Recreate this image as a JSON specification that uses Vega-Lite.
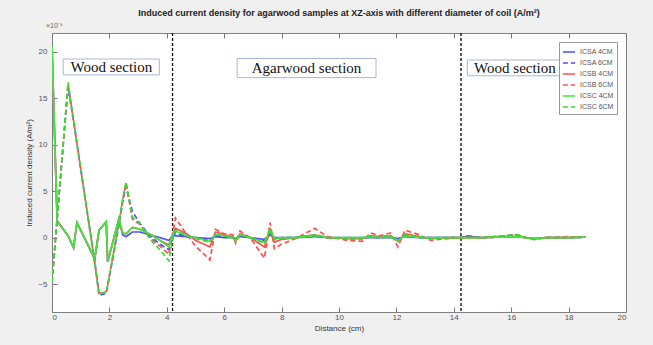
{
  "$schema": "https://vega.github.io/schema/vega-lite/v6.json",
  "width": 574,
  "height": 279,
  "autosize": {"type": "none"},
  "padding": {"left": 52, "top": 33, "right": 27, "bottom": 33},
  "background": "#f0f0f0",
  "title": {
    "text": "Induced current density for agarwood samples at XZ-axis with different diameter of coil (A/m²)",
    "fontSize": 9, "font": "Liberation Sans", "fontWeight": "bold", "color": "#222", "offset": 4, "anchor": "middle"
  },
  "config": {
    "view": {"fill": "white", "stroke": "#808080", "strokeWidth": 1},
    "font": "Liberation Sans"
  },
  "resolve": {"axis": {"x": "independent", "y": "independent"}},
  "layer": [
    {
      "data": {"values": [
        {"t": "Wood section", "x": 2.07, "y": 18.35, "x0": 0.39, "x1": 3.74, "y0": 17.5, "y1": 19.2},
        {"t": "Agarwood section", "x": 8.87, "y": 18.2, "x0": 6.45, "x1": 11.29, "y0": 17.2, "y1": 19.26},
        {"t": "Wood section", "x": 16.13, "y": 18.25, "x0": 14.47, "x1": 17.79, "y0": 17.4, "y1": 19.1}
      ]},
      "layer": [
        {
          "mark": {"type": "rect", "fill": "white", "stroke": "#a9b6d3", "strokeWidth": 1},
          "encoding": {
            "x": {"field": "x0", "type": "quantitative", "axis": null},
            "x2": {"field": "x1"},
            "y": {"field": "y0", "type": "quantitative", "axis": null},
            "y2": {"field": "y1"}
          }
        },
        {
          "mark": {"type": "text", "font": "Liberation Serif", "fontSize": 15, "color": "#111", "baseline": "middle", "align": "center"},
          "encoding": {
            "x": {"field": "x", "type": "quantitative", "axis": null},
            "y": {"field": "y", "type": "quantitative", "axis": {"orient": "right", "labels": false, "domain": false, "grid": false, "title": null, "tickSize": -5, "tickColor": "#777", "values": [-5, 0, 5, 10, 15, 20]}},
            "text": {"field": "t"}
          }
        }
      ]
    },
    {
      "data": {"values": [{"x": 4.2}, {"x": 14.25}]},
      "mark": {"type": "rule", "color": "#000", "strokeWidth": 1.3, "strokeDash": [3, 2]},
      "encoding": {
        "x": {"field": "x", "type": "quantitative", "axis": {"orient": "top", "labels": false, "domain": false, "grid": false, "title": null, "tickSize": -5, "tickColor": "#777", "values": [0, 2, 4, 6, 8, 10, 12, 14, 16, 18, 20]}}
      }
    },
    {
      "data": {"values": [
        {"x": 0, "ICSA 4CM": 20.5, "ICSA 6CM": -4.8, "ICSB 4CM": 20.5, "ICSB 6CM": -4.8, "ICSC 4CM": 20.6, "ICSC 6CM": -4.8},
        {"x": 0.18, "ICSA 4CM": 1.8, "ICSA 6CM": 2.1, "ICSB 4CM": 1.8, "ICSB 6CM": 2.1, "ICSC 4CM": 1.7, "ICSC 6CM": 2.1},
        {"x": 0.56, "ICSA 4CM": 0.2, "ICSA 6CM": 16.2, "ICSB 4CM": 0.2, "ICSB 6CM": 16.5, "ICSC 4CM": 0.2, "ICSC 6CM": 16.7},
        {"x": 0.75, "ICSA 4CM": -1.1, "ICSA 6CM": 12.5, "ICSB 4CM": -1.1, "ICSB 6CM": 12.6, "ICSC 4CM": -1.1, "ICSC 6CM": 12.7},
        {"x": 0.87, "ICSA 4CM": 1.6, "ICSA 6CM": 10.0, "ICSB 4CM": 1.6, "ICSB 6CM": 10.1, "ICSC 4CM": 1.6, "ICSC 6CM": 10.2},
        {"x": 1.49, "ICSA 4CM": -2.3, "ICSA 6CM": -2.6, "ICSB 4CM": -2.3, "ICSB 6CM": -2.7, "ICSC 4CM": -2.2, "ICSC 6CM": -2.7},
        {"x": 1.64, "ICSA 4CM": 0.8, "ICSA 6CM": -6.2, "ICSB 4CM": 0.8, "ICSB 6CM": -6.0, "ICSC 4CM": 0.8, "ICSC 6CM": -6.1},
        {"x": 1.89, "ICSA 4CM": 1.7, "ICSA 6CM": -6.0, "ICSB 4CM": 1.7, "ICSB 6CM": -5.8, "ICSC 4CM": 1.7, "ICSC 6CM": -5.8},
        {"x": 1.94, "ICSA 4CM": -2.6, "ICSA 6CM": -5.2, "ICSB 4CM": -2.6, "ICSB 6CM": -5.1, "ICSC 4CM": -2.6, "ICSC 6CM": -5.1},
        {"x": 2.33, "ICSA 4CM": 2.0, "ICSA 6CM": 1.3, "ICSB 4CM": 2.0, "ICSB 6CM": 1.5, "ICSC 4CM": 2.0, "ICSC 6CM": 1.6},
        {"x": 2.46, "ICSA 4CM": 0.3, "ICSA 6CM": 3.8, "ICSB 4CM": 0.5, "ICSB 6CM": 4.0, "ICSC 4CM": 0.5, "ICSC 6CM": 4.1},
        {"x": 2.58, "ICSA 4CM": 0.1, "ICSA 6CM": 5.5, "ICSB 4CM": 0.4, "ICSB 6CM": 5.8, "ICSC 4CM": 0.4, "ICSC 6CM": 6.0},
        {"x": 2.8, "ICSA 4CM": 0.6, "ICSA 6CM": 2.8, "ICSB 4CM": 1.1, "ICSB 6CM": 2.0, "ICSC 4CM": 1.1, "ICSC 6CM": 2.2},
        {"x": 3.07, "ICSA 4CM": 0.6, "ICSA 6CM": 1.5, "ICSB 4CM": 0.9, "ICSB 6CM": 1.4, "ICSC 4CM": 0.9, "ICSC 6CM": 1.5},
        {"x": 3.4, "ICSA 4CM": 0.3, "ICSA 6CM": 0.2, "ICSB 4CM": 0.4, "ICSB 6CM": 0.0, "ICSC 4CM": 0.4, "ICSC 6CM": -0.1},
        {"x": 3.76, "ICSA 4CM": 0.0, "ICSA 6CM": -0.7, "ICSB 4CM": -0.3, "ICSB 6CM": -0.9, "ICSC 4CM": -0.3, "ICSC 6CM": -1.3},
        {"x": 4.07, "ICSA 4CM": -0.3, "ICSA 6CM": -1.3, "ICSB 4CM": -0.8, "ICSB 6CM": -1.8, "ICSC 4CM": -1.0, "ICSC 6CM": -2.5},
        {"x": 4.2, "ICSA 4CM": 0.2, "ICSA 6CM": 0.0, "ICSB 4CM": 0.3, "ICSB 6CM": 0.2, "ICSC 4CM": 0.3, "ICSC 6CM": -0.2},
        {"x": 4.3, "ICSA 4CM": 0.2, "ICSA 6CM": 0.5, "ICSB 4CM": 1.0, "ICSB 6CM": 2.1, "ICSC 4CM": 0.7, "ICSC 6CM": 0.8},
        {"x": 4.7, "ICSA 4CM": 0.1, "ICSA 6CM": 0.1, "ICSB 4CM": 0.4, "ICSB 6CM": 0.3, "ICSC 4CM": 0.2, "ICSC 6CM": 0.2},
        {"x": 5.0, "ICSA 4CM": 0.0, "ICSA 6CM": 0.0, "ICSB 4CM": -0.3, "ICSB 6CM": -0.9, "ICSC 4CM": 0.0, "ICSC 6CM": -0.1},
        {"x": 5.5, "ICSA 4CM": -0.1, "ICSA 6CM": -0.3, "ICSB 4CM": -1.0, "ICSB 6CM": -2.4, "ICSC 4CM": -0.4, "ICSC 6CM": -0.5},
        {"x": 5.7, "ICSA 4CM": 0.1, "ICSA 6CM": 0.2, "ICSB 4CM": 0.6, "ICSB 6CM": 0.9, "ICSC 4CM": 0.3, "ICSC 6CM": 0.3},
        {"x": 6.0, "ICSA 4CM": 0.0, "ICSA 6CM": 0.1, "ICSB 4CM": 0.3, "ICSB 6CM": 0.4, "ICSC 4CM": 0.2, "ICSC 6CM": 0.2},
        {"x": 6.3, "ICSA 4CM": 0.0, "ICSA 6CM": 0.0, "ICSB 4CM": 0.1, "ICSB 6CM": 0.3, "ICSC 4CM": 0.0, "ICSC 6CM": 0.0},
        {"x": 6.4, "ICSA 4CM": -0.1, "ICSA 6CM": -0.2, "ICSB 4CM": -0.4, "ICSB 6CM": -0.6, "ICSC 4CM": -0.3, "ICSC 6CM": -0.3},
        {"x": 6.55, "ICSA 4CM": 0.1, "ICSA 6CM": 0.2, "ICSB 4CM": 0.4, "ICSB 6CM": 0.7, "ICSC 4CM": 0.3, "ICSC 6CM": 0.3},
        {"x": 6.9, "ICSA 4CM": 0.0, "ICSA 6CM": 0.0, "ICSB 4CM": 0.0, "ICSB 6CM": 0.0, "ICSC 4CM": 0.0, "ICSC 6CM": 0.0},
        {"x": 7.4, "ICSA 4CM": -0.2, "ICSA 6CM": -0.3, "ICSB 4CM": -1.0, "ICSB 6CM": -2.2, "ICSC 4CM": -0.5, "ICSC 6CM": -0.6},
        {"x": 7.6, "ICSA 4CM": 0.3, "ICSA 6CM": 0.5, "ICSB 4CM": 0.9, "ICSB 6CM": 1.6, "ICSC 4CM": 0.8, "ICSC 6CM": 1.0},
        {"x": 7.75, "ICSA 4CM": 0.0, "ICSA 6CM": -0.2, "ICSB 4CM": -0.5, "ICSB 6CM": -1.2, "ICSC 4CM": -0.1, "ICSC 6CM": -0.2},
        {"x": 8.0, "ICSA 4CM": 0.0, "ICSA 6CM": 0.0, "ICSB 4CM": -0.2, "ICSB 6CM": -0.7, "ICSC 4CM": 0.0, "ICSC 6CM": -0.1},
        {"x": 8.5, "ICSA 4CM": 0.0, "ICSA 6CM": 0.0, "ICSB 4CM": 0.0, "ICSB 6CM": -0.1, "ICSC 4CM": 0.0, "ICSC 6CM": 0.0},
        {"x": 9.15, "ICSA 4CM": 0.1, "ICSA 6CM": 0.2, "ICSB 4CM": 0.3, "ICSB 6CM": 1.0, "ICSC 4CM": 0.2, "ICSC 6CM": 0.3},
        {"x": 9.6, "ICSA 4CM": 0.0, "ICSA 6CM": 0.0, "ICSB 4CM": 0.0, "ICSB 6CM": 0.1, "ICSC 4CM": 0.0, "ICSC 6CM": 0.0},
        {"x": 10.3, "ICSA 4CM": 0.0, "ICSA 6CM": -0.1, "ICSB 4CM": -0.1, "ICSB 6CM": -0.3, "ICSC 4CM": 0.0, "ICSC 6CM": -0.1},
        {"x": 10.8, "ICSA 4CM": 0.0, "ICSA 6CM": -0.1, "ICSB 4CM": -0.1, "ICSB 6CM": -0.4, "ICSC 4CM": 0.0, "ICSC 6CM": -0.1},
        {"x": 11.1, "ICSA 4CM": 0.0, "ICSA 6CM": 0.1, "ICSB 4CM": 0.2, "ICSB 6CM": 0.5, "ICSC 4CM": 0.1, "ICSC 6CM": 0.1},
        {"x": 11.4, "ICSA 4CM": 0.0, "ICSA 6CM": 0.0, "ICSB 4CM": 0.1, "ICSB 6CM": 0.2, "ICSC 4CM": 0.0, "ICSC 6CM": 0.0},
        {"x": 11.8, "ICSA 4CM": 0.0, "ICSA 6CM": 0.1, "ICSB 4CM": 0.2, "ICSB 6CM": 0.5, "ICSC 4CM": 0.1, "ICSC 6CM": 0.1},
        {"x": 12.05, "ICSA 4CM": -0.1, "ICSA 6CM": -0.3, "ICSB 4CM": -0.4, "ICSB 6CM": -1.0, "ICSC 4CM": -0.3, "ICSC 6CM": -0.4},
        {"x": 12.3, "ICSA 4CM": 0.1, "ICSA 6CM": 0.2, "ICSB 4CM": 0.4, "ICSB 6CM": 0.8, "ICSC 4CM": 0.2, "ICSC 6CM": 0.3},
        {"x": 12.8, "ICSA 4CM": 0.0, "ICSA 6CM": 0.0, "ICSB 4CM": 0.1, "ICSB 6CM": 0.3, "ICSC 4CM": 0.0, "ICSC 6CM": 0.1},
        {"x": 13.2, "ICSA 4CM": 0.0, "ICSA 6CM": 0.0, "ICSB 4CM": -0.1, "ICSB 6CM": -0.3, "ICSC 4CM": 0.0, "ICSC 6CM": -0.1},
        {"x": 13.8, "ICSA 4CM": 0.0, "ICSA 6CM": 0.0, "ICSB 4CM": 0.0, "ICSB 6CM": -0.1, "ICSC 4CM": 0.0, "ICSC 6CM": 0.0},
        {"x": 14.3, "ICSA 4CM": 0.0, "ICSA 6CM": 0.0, "ICSB 4CM": 0.0, "ICSB 6CM": 0.0, "ICSC 4CM": 0.0, "ICSC 6CM": 0.0},
        {"x": 14.45, "ICSA 4CM": 0.15, "ICSA 6CM": 0.2, "ICSB 4CM": 0.0, "ICSB 6CM": 0.0, "ICSC 4CM": 0.0, "ICSC 6CM": 0.0},
        {"x": 15.0, "ICSA 4CM": 0.0, "ICSA 6CM": 0.0, "ICSB 4CM": 0.0, "ICSB 6CM": 0.0, "ICSC 4CM": 0.0, "ICSC 6CM": 0.0},
        {"x": 16.2, "ICSA 4CM": 0.1, "ICSA 6CM": 0.3, "ICSB 4CM": 0.1, "ICSB 6CM": 0.3, "ICSC 4CM": 0.1, "ICSC 6CM": 0.3},
        {"x": 16.5, "ICSA 4CM": 0.0, "ICSA 6CM": 0.0, "ICSB 4CM": 0.0, "ICSB 6CM": 0.0, "ICSC 4CM": 0.0, "ICSC 6CM": 0.0},
        {"x": 16.8, "ICSA 4CM": -0.1, "ICSA 6CM": -0.2, "ICSB 4CM": -0.1, "ICSB 6CM": -0.2, "ICSC 4CM": -0.1, "ICSC 6CM": -0.2},
        {"x": 17.2, "ICSA 4CM": 0.0, "ICSA 6CM": 0.0, "ICSB 4CM": 0.0, "ICSB 6CM": 0.0, "ICSC 4CM": 0.0, "ICSC 6CM": 0.0},
        {"x": 18.0, "ICSA 4CM": 0.0, "ICSA 6CM": 0.0, "ICSB 4CM": 0.0, "ICSB 6CM": 0.1, "ICSC 4CM": 0.0, "ICSC 6CM": 0.0},
        {"x": 18.6, "ICSA 4CM": 0.05, "ICSA 6CM": 0.05, "ICSB 4CM": 0.05, "ICSB 6CM": 0.05, "ICSC 4CM": 0.05, "ICSC 6CM": 0.05}
      ]},
      "transform": [{"fold": ["ICSA 4CM", "ICSA 6CM", "ICSB 4CM", "ICSB 6CM", "ICSC 4CM", "ICSC 6CM"], "as": ["s", "v"]}],
      "mark": {"type": "line", "strokeWidth": 1.7, "opacity": 1, "clip": true},
      "encoding": {
        "x": {"field": "x", "type": "quantitative", "scale": {"domain": [0, 20], "nice": false},
          "axis": {"orient": "bottom", "values": [0, 2, 4, 6, 8, 10, 12, 14, 16, 18, 20], "tickSize": -5, "tickColor": "#777", "labelPadding": 6, "labelFontSize": 8, "labelColor": "#555", "domain": false, "grid": false, "title": "Distance (cm)", "titleFontSize": 8, "titleFontWeight": "normal", "titleColor": "#333", "titlePadding": 3}},
        "y": {"field": "v", "type": "quantitative", "scale": {"domain": [-8, 22], "nice": false, "zero": false},
          "axis": {"orient": "left", "values": [-5, 0, 5, 10, 15, 20], "tickSize": -5, "tickColor": "#777", "labelPadding": 10, "labelFontSize": 8, "labelColor": "#555", "domain": false, "grid": false, "title": "Induced current density (A/m²)", "titleFontSize": 8, "titleFontWeight": "normal", "titleColor": "#333", "titlePadding": 4}},
        "color": {"field": "s", "type": "nominal",
          "scale": {"domain": ["ICSA 4CM", "ICSA 6CM", "ICSB 4CM", "ICSB 6CM", "ICSC 4CM", "ICSC 6CM"], "range": ["#5050ff", "#5050ff", "#ff5050", "#ff5050", "#3fe83f", "#2ee02e"]},
          "legend": {"title": null, "orient": "top-right", "offset": 9, "labelFontSize": 7, "labelColor": "#555", "symbolType": "stroke", "symbolSize": 150, "symbolStrokeWidth": 1.6, "padding": 3, "rowPadding": -3, "labelOffset": 4, "strokeColor": "#999", "fillColor": "white"}},
        "strokeDash": {"field": "s", "type": "nominal",
          "scale": {"domain": ["ICSA 4CM", "ICSA 6CM", "ICSB 4CM", "ICSB 6CM", "ICSC 4CM", "ICSC 6CM"], "range": [[1, 0], [5, 3], [1, 0], [5, 3], [1, 0], [5, 3]]},
          "legend": {"title": null, "orient": "top-right", "offset": 9, "labelFontSize": 7, "labelColor": "#555", "symbolType": "stroke", "symbolSize": 150, "symbolStrokeWidth": 1.6, "padding": 3, "rowPadding": -3, "labelOffset": 4, "strokeColor": "#999", "fillColor": "white"}}
      }
    },
    {
      "data": {"values": [{"lab": "×10⁻⁴"}]},
      "mark": {"type": "text", "fontSize": 7, "color": "#666", "align": "left", "baseline": "bottom", "dy": -4, "dx": -6},
      "encoding": {
        "x": {"datum": 0, "type": "quantitative", "axis": null},
        "y": {"datum": 22, "type": "quantitative", "axis": null},
        "text": {"field": "lab"}
      }
    }
  ]
}
